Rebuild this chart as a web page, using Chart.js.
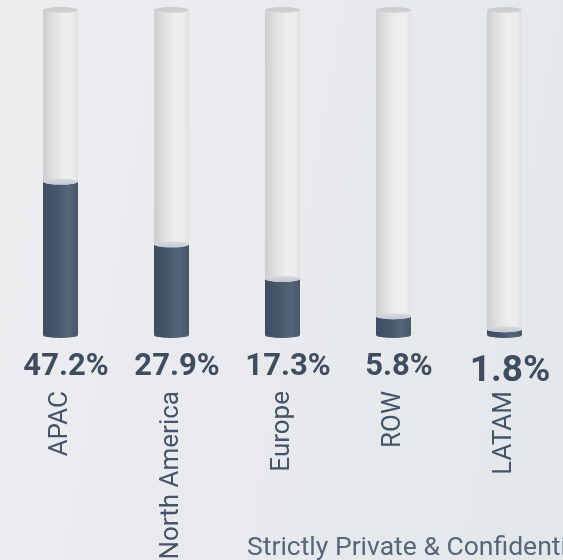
<!DOCTYPE html>
<html>
<head>
<meta charset="utf-8">
<script src="https://cdn.jsdelivr.net/npm/chart.js@4/dist/chart.umd.min.js"></script>
<style>
  html, body { margin:0; padding:0; width:563px; height:560px; overflow:hidden; }
  body { background: linear-gradient(100deg, #eceef0 0%, #e8eaed 45%, #e4e7ea 100%); position:relative; font-family: Roboto, sans-serif; }
  #wrap { position:absolute; left:0; top:0; width:563px; height:560px; }
  #note { position:absolute; left:247px; top:530px; font: 26.5px Roboto, sans-serif; color:#56677b; white-space:nowrap; }
</style>
</head>
<body>
<div id="wrap"><canvas id="c" width="563" height="560"></canvas></div>
<div id="note">Strictly Private &amp; Confidential</div>
<script>
const categories = ['APAC', 'North America', 'Europe', 'ROW', 'LATAM'];
const shareValues = [47.2, 27.9, 17.3, 5.8, 1.8];
const capacityValues = [100, 100, 100, 100, 100];

const labelSizes = [31, 31, 31, 31, 37];

function cylinder(ctx, x, top, bottom, w, side, cap, capEdge) {
  const rx = w / 2, ry = 3;
  const left = x - rx;
  const g = ctx.createLinearGradient(left, 0, left + w, 0);
  side.forEach(s => g.addColorStop(s[0], s[1]));
  ctx.save();
  ctx.beginPath();
  ctx.moveTo(left, top);
  ctx.lineTo(left, bottom);
  ctx.ellipse(x, bottom, rx, ry, 0, Math.PI, 0, true);
  ctx.lineTo(left + w, top);
  ctx.ellipse(x, top, rx, ry, 0, 0, Math.PI, false);
  ctx.closePath();
  ctx.fillStyle = g;
  ctx.fill();
  ctx.beginPath();
  ctx.ellipse(x, top, rx, ry, 0, 0, Math.PI * 2);
  const cg = ctx.createLinearGradient(0, top - ry, 0, top + ry);
  cg.addColorStop(0, capEdge);
  cg.addColorStop(1, cap);
  ctx.fillStyle = cg;
  ctx.fill();
  ctx.restore();
}

const cylPlugin = {
  id: 'cyl',
  afterDatasetsDraw(chart) {
    const ctx = chart.ctx;
    const track = chart.getDatasetMeta(0).data;
    const fill = chart.getDatasetMeta(1).data;
    track.forEach(el => {
      const p = el.getProps(['x', 'y', 'base', 'width'], true);
      cylinder(ctx, p.x, p.y, p.base, p.width,
        [[0, '#cdcdcd'], [0.3, '#e1e1e1'], [0.6, '#eeeeee'], [0.85, '#ededed'], [1, '#e0e0e0']],
        '#d4d4d4', '#c9c9c9');
    });
    fill.forEach((el, i) => {
      const p = el.getProps(['x', 'y', 'base', 'width'], true);
      cylinder(ctx, p.x, p.y, p.base, p.width,
        [[0, '#3e4d62'], [0.4, '#46566b'], [0.72, '#55657a'], [1, '#485869']],
        '#c3c8d0', '#d8dbe0');
      ctx.save();
      ctx.font = 'bold ' + labelSizes[i] + 'px Roboto';
      ctx.fillStyle = '#3f4d61';
      ctx.textAlign = 'center';
      ctx.textBaseline = 'alphabetic';
      const extra = labelSizes[i] > 31 ? 6 : 0;
      ctx.fillText(shareValues[i].toFixed(1) + '%', p.x + 5.5, p.base + 40 + extra);
      ctx.restore();
    });
  }
};

new Chart(document.getElementById('c'), {
  type: 'bar',
  data: {
    labels: categories,
    datasets: [
      { data: capacityValues, backgroundColor: 'rgba(0,0,0,0)', grouped: false, barThickness: 35, order: 2 },
      { data: shareValues, backgroundColor: 'rgba(0,0,0,0)', grouped: false, barThickness: 35, order: 1 }
    ]
  },
  options: {
    responsive: false,
    animation: false,
    layout: { padding: { left: 5, right: 3, top: 10, bottom: 0 } },
    plugins: { legend: { display: false }, tooltip: { enabled: false } },
    scales: {
      y: { display: false, min: 0, max: 100 },
      x: {
        grid: { display: false, drawTicks: false },
        border: { display: false },
        ticks: {
          maxRotation: 90, minRotation: 90, padding: 56, autoSkip: false,
          color: '#44546a', font: { family: 'Roboto', size: 26 }
        },
        afterFit(scale) { scale.height = 225; scale.paddingLeft = 0; scale.paddingRight = 0; }
      }
    }
  },
  plugins: [cylPlugin]
});
</script>
</body>
</html>
